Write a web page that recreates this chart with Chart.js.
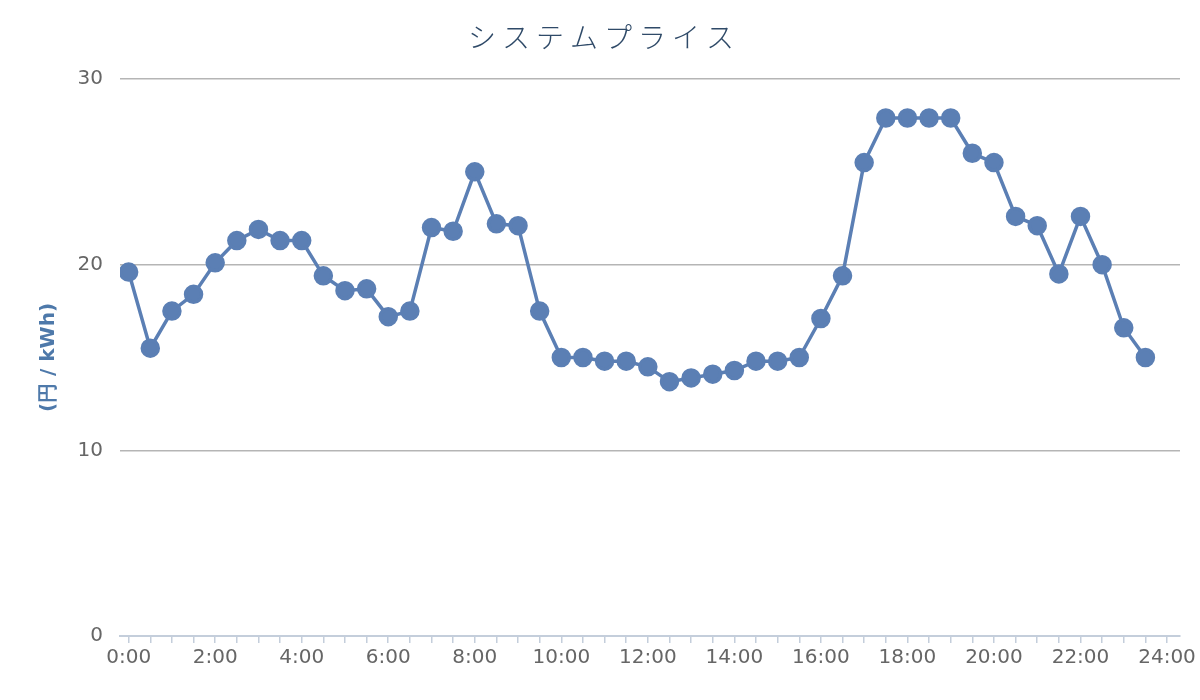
<!DOCTYPE html>
<html>
<head>
<meta charset="utf-8">
<script src="https://cdn.jsdelivr.net/npm/chart.js@4"></script>
<style>
  html, body { margin: 0; padding: 0; background: #fff; }
  #wrap { width: 1200px; height: 700px; }
</style>
</head>
<body>
<div id="wrap"><canvas id="price"></canvas></div>
<script>
const chartTitle = "システムプライス";
const axisTitle = "(円 / kWh)";

// half-hour slots, 0:00 .. 24:00 (the last one is only a tick)
const slots = [
  "0:00", "0:30", "1:00", "1:30", "2:00", "2:30", "3:00", "3:30",
  "4:00", "4:30", "5:00", "5:30", "6:00", "6:30", "7:00", "7:30",
  "8:00", "8:30", "9:00", "9:30", "10:00", "10:30", "11:00", "11:30",
  "12:00", "12:30", "13:00", "13:30", "14:00", "14:30", "15:00", "15:30",
  "16:00", "16:30", "17:00", "17:30", "18:00", "18:30", "19:00", "19:30",
  "20:00", "20:30", "21:00", "21:30", "22:00", "22:30", "23:00", "23:30",
  "24:00"
];

// price per slot (円/kWh)
const prices = [
  19.6, 15.5, 17.5, 18.4, 20.1, 21.3, 21.9, 21.3,
  21.3, 19.4, 18.6, 18.7, 17.2, 17.5, 22.0, 21.8,
  25.0, 22.2, 22.1, 17.5, 15.0, 15.0, 14.8, 14.8,
  14.5, 13.7, 13.9, 14.1, 14.3, 14.8, 14.8, 15.0,
  17.1, 19.4, 25.5, 27.9, 27.9, 27.9, 27.9, 26.0,
  25.5, 22.6, 22.1, 19.5, 22.6, 20.0, 16.6, 15.0
];

const yTicks = [0, 10, 20, 30];
const labelEvery = 4;

// draw the title ourselves so the letters can be spaced out
const spacedTitle = {
  id: "spacedTitle",
  afterDraw(chart) {
    const ctx = chart.ctx;
    ctx.save();
    ctx.font = "300 28px 'Noto Sans CJK JP'";
    ctx.fillStyle = "#2f4a68";
    ctx.textBaseline = "middle";
    ctx.textAlign = "left";
    const gap = 6;
    ctx.letterSpacing = gap + "px";
    const w = ctx.measureText(chartTitle).width - gap;
    ctx.fillText(chartTitle, chart.width / 2 - w / 2 + 1, 37);
    ctx.restore();
  }
};

new Chart(document.getElementById("price"), {
  type: "line",
  data: {
    datasets: [{
      data: prices.map((v, i) => ({ x: i, y: v })),
      borderColor: "#5b7fb4",
      backgroundColor: "#5b7fb4",
      borderWidth: 3.5,
      pointRadius: 8,
      pointHoverRadius: 8,
      tension: 0
    }]
  },
  options: {
    responsive: true,
    maintainAspectRatio: false,
    animation: false,
    layout: { padding: { top: 79, right: 20, left: 0, bottom: 0 } },
    plugins: {
      legend: { display: false },
      tooltip: { enabled: false }
    },
    scales: {
      x: {
        type: "linear",
        min: -0.4,
        max: 48.6,
        afterFit: (s) => { s.height = 64; },
        afterBuildTicks: (s) => {
          s.ticks = slots.map((_, i) => ({ value: i }));
        },
        ticks: {
          autoSkip: false,
          maxRotation: 0,
          includeBounds: false,
          color: "#666",
          font: { family: "DejaVu Sans", size: 20 },
          padding: 3,
          callback: (v) => (v % labelEvery === 0 ? slots[v] : "")
        },
        grid: {
          drawOnChartArea: false,
          drawTicks: true,
          tickLength: 7,
          color: "#c4cedb",
          lineWidth: 1.5
        },
        border: { color: "#c4cedb", width: 2 }
      },
      y: {
        min: 0,
        max: 30,
        afterFit: (s) => { s.width = 120; },
        afterBuildTicks: (s) => {
          s.ticks = yTicks.map((v) => ({ value: v }));
        },
        ticks: {
          color: "#666",
          font: { family: "DejaVu Sans", size: 20 },
          padding: 17
        },
        grid: {
          color: "#b5b5b5",
          lineWidth: 1.5,
          drawTicks: false
        },
        border: { display: false },
        title: {
          display: true,
          text: axisTitle,
          color: "#4e79aa",
          font: { family: "DejaVu Sans", size: 20, weight: "bold" },
          padding: { top: 37, bottom: 0 }
        }
      }
    }
  },
  plugins: [spacedTitle]
});
</script>
</body>
</html>
